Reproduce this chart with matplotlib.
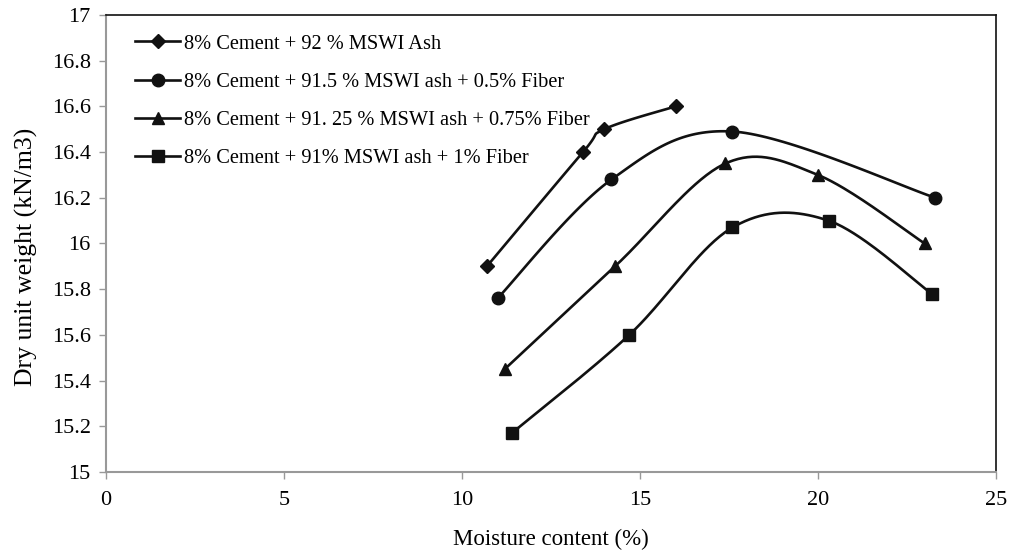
import numpy as np
import matplotlib.pyplot as plt

plt.rcParams['font.family'] = ['Liberation Serif', 'DejaVu Serif']

# moisture content (%) and dry unit weight (kN/m3) for each mix
x_ash = [10.7, 13.4, 14.0, 16.0]
y_ash = [15.90, 16.40, 16.50, 16.60]

x_f05 = [11.0, 14.2, 17.6, 23.3]
y_f05 = [15.76, 16.28, 16.49, 16.20]

x_f075 = [11.2, 14.3, 17.4, 20.0, 23.0]
y_f075 = [15.45, 15.90, 16.35, 16.30, 16.00]

x_f1 = [11.4, 14.7, 17.6, 20.3, 23.2]
y_f1 = [15.17, 15.60, 16.07, 16.10, 15.78]

labels = ['8% Cement + 92 % MSWI Ash',
          '8% Cement + 91.5 % MSWI ash + 0.5% Fiber',
          '8% Cement + 91. 25 % MSWI ash + 0.75% Fiber',
          '8% Cement + 91% MSWI ash + 1% Fiber']
markers = ['D', 'o', '^', 's']
msizes = [7, 9, 9, 8.5]


def smooth(xs, ys, n=40):
    # spreadsheet-style smoothed line: cubic bezier through the points
    p = np.column_stack([xs, ys]).astype(float)
    p = np.vstack([p[0], p, p[-1]])
    out = []
    for i in range(1, len(p) - 2):
        p0, p1, p2, p3 = p[i - 1], p[i], p[i + 1], p[i + 2]
        c1 = p1 + (p2 - p0) / 6
        c2 = p2 - (p3 - p1) / 6
        t = np.linspace(0, 1, n)[:, None]
        seg = ((1 - t) ** 3 * p1 + 3 * (1 - t) ** 2 * t * c1
               + 3 * (1 - t) * t ** 2 * c2 + t ** 3 * p2)
        out.append(seg if i == 1 else seg[1:])
    out = np.vstack(out)
    return out[:, 0], out[:, 1]


fig = plt.figure(figsize=(10.1, 5.54), dpi=100)
ax = fig.add_axes([0.105, 0.148, 0.881, 0.825])

data = [(x_ash, y_ash), (x_f05, y_f05), (x_f075, y_f075), (x_f1, y_f1)]
for (xs, ys), lab, m, ms in zip(data, labels, markers, msizes):
    sx, sy = smooth(xs, ys)
    ax.plot(sx, sy, color='#111111', lw=1.9)
    ax.plot(xs, ys, ls='none', marker=m, ms=ms, color='#111111')
    # legend entry
    ax.plot([], [], color='#111111', lw=1.9, marker=m, ms=ms, label=lab)

ax.set_xlim(0, 25)
ax.set_ylim(15, 17)
ax.set_xticks(np.arange(0, 26, 5))
ax.set_yticks(np.arange(15, 17.01, 0.2))
ax.set_yticklabels(['15', '15.2', '15.4', '15.6', '15.8', '16', '16.2', '16.4',
                    '16.6', '16.8', '17'])
ax.tick_params(labelsize=16, color='#999999', length=5, width=1, pad=6)
ax.tick_params(axis='x', direction='out', pad=9)

for side in ['left', 'bottom']:
    ax.spines[side].set_color('#999999')
    ax.spines[side].set_linewidth(1.5)
for side in ['top', 'right']:
    ax.spines[side].set_color('#111111')
    ax.spines[side].set_linewidth(1.2)

ax.set_xlabel('Moisture content (%)', fontsize=16.5, labelpad=13)
ax.set_ylabel('Dry unit weight (kN/m3)', fontsize=18.5)
ax.yaxis.set_label_coords(-0.076, 0.47)

ax.legend(loc='upper left', frameon=False, fontsize=14.7, handlelength=2.2,
          handletextpad=0.2, labelspacing=0.93, borderaxespad=0.55,
          bbox_to_anchor=(0.011, 1.0), numpoints=1)

fig.savefig('out.png', dpi=100)
